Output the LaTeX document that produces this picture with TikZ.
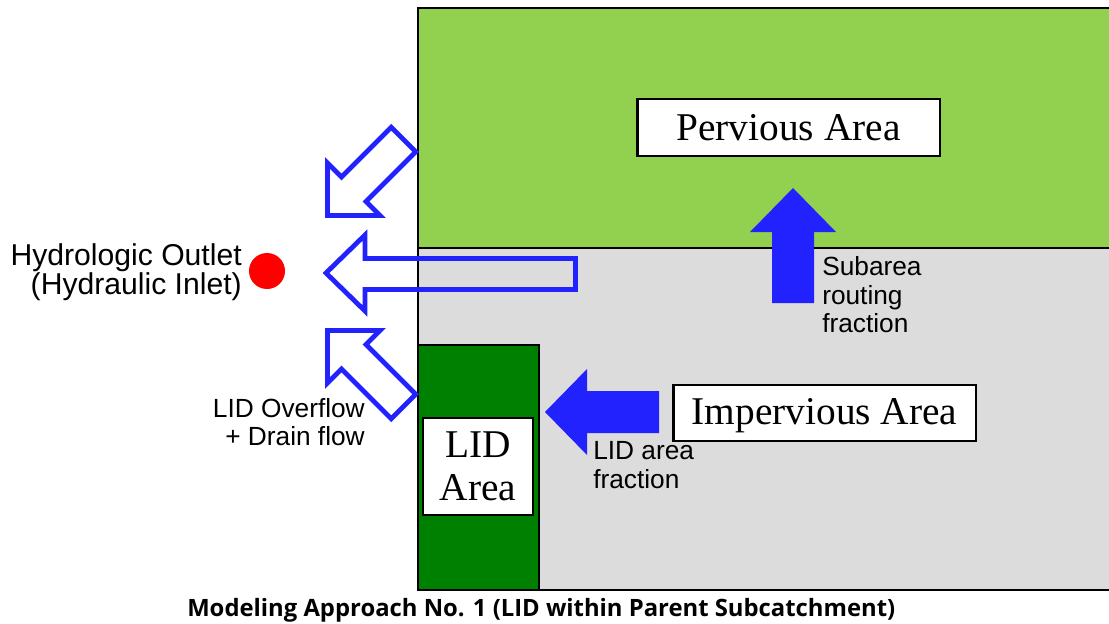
\documentclass[tikz,border=0pt]{standalone}
\usepackage{fontspec}
\setmainfont{Liberation Serif}
\newfontfamily\arialf{Liberation Sans}
\newfontfamily\capf{Open Sans}
\definecolor{perv}{HTML}{92D050}
\definecolor{imp}{HTML}{DCDCDC}
\definecolor{lidg}{HTML}{008000}
\definecolor{arrblue}{HTML}{2222FF}
\definecolor{dotred}{HTML}{FF0000}
\tikzset{
  areabox/.style={draw=black, line width=2pt, fill=white, inner sep=0pt,
    font=\fontsize{29.5}{32.5}\selectfont},
  sanslbl/.style={inner sep=0pt, font=\arialf\fontsize{19.7}{21}\selectfont},
  biglbl/.style={inner sep=0pt, font=\arialf\fontsize{22.6}{24}\selectfont},
  hollowarrow/.style={draw=arrblue, line width=3.6pt, line join=miter},
  solidarrow/.style={fill=arrblue, draw=none},
}
\begin{document}
\begin{tikzpicture}[x=0.75pt, y=-0.75pt]
\useasboundingbox (0,0) rectangle (1109,624);
% subcatchment areas
\fill[perv] (418,8) rectangle (1115,248);
\fill[imp] (418,248) rectangle (1115,590);
\draw[line width=1.2pt] (418,248) -- (1115,248);
\fill[lidg] (418,345) rectangle (539,590);
\draw[line width=1.5pt] (418,345) -- (539,345) -- (539,590);
\draw[line width=1.8pt] (1115,8) -- (418,8) -- (418,590) -- (1115,590);
% area boxes
\node[areabox, minimum width=227pt, minimum height=42.75pt] (perv) at (788.5,127.5) {Pervious Area};
\node[areabox, minimum width=227pt, minimum height=42pt, text depth=0pt, text height=16.5pt] (imperv) at (824.5,413) {Impervious Area};
\node[areabox, minimum width=82.5pt, minimum height=72.75pt, align=center] (lid) at (478,466.5) {LID\\Area};
% solid arrows
\path[solidarrow] (793,188) -- (836,232) -- (814,232) -- (814,303) -- (772,303) -- (772,232) -- (750,232) -- cycle;
\path[solidarrow] (545,412) -- (587,369) -- (587,391) -- (659,391) -- (659,433) -- (587,433) -- (587,455) -- cycle;
% hollow arrows
\draw[hollowarrow] (327.5,215.5) -- (327.5,163) -- (341.5,177) -- (391.3,127.3) -- (415.7,151.7) -- (366,201.5) -- (380,215.5) -- cycle;
\draw[hollowarrow] (326,273) -- (365,235) -- (365,258.5) -- (575.5,258.5) -- (575.5,289.5) -- (365,289.5) -- (365,311) -- cycle;
\draw[hollowarrow] (327.5,330.5) -- (327.5,383) -- (341.5,369) -- (391.3,418.7) -- (415.7,394.3) -- (366,344.5) -- (380,330.5) -- cycle;
% outlet
\node[circle, fill=dotred, minimum size=27pt, inner sep=0pt] (outlet) at (267,271) {};
\node[biglbl, anchor=base east] (hyd1) at (242,265) {Hydrologic Outlet};
\node[biglbl, anchor=base east] (hyd2) at (242,294) {(Hydraulic Inlet)};
% labels
\node[sanslbl, anchor=base east] (ov1) at (365,417) {LID Overflow};
\node[sanslbl, anchor=base east] (ov2) at (365,445) {+ Drain flow};
\node[sanslbl, anchor=base west] (sub1) at (822,275) {Subarea};
\node[sanslbl, anchor=base west] (sub2) at (822,304) {routing};
\node[sanslbl, anchor=base west] (sub3) at (822,332) {fraction};
\node[sanslbl, anchor=base west] (lf1) at (593,459) {LID area};
\node[sanslbl, anchor=base west] (lf2) at (593,488) {fraction};
% caption
\node[inner sep=0pt, anchor=base west] (cap) at (187,616) {\resizebox{531pt}{13.6pt}{\capf\bfseries Modeling Approach No. 1 (LID within Parent Subcatchment)}};
\end{tikzpicture}
\end{document}
